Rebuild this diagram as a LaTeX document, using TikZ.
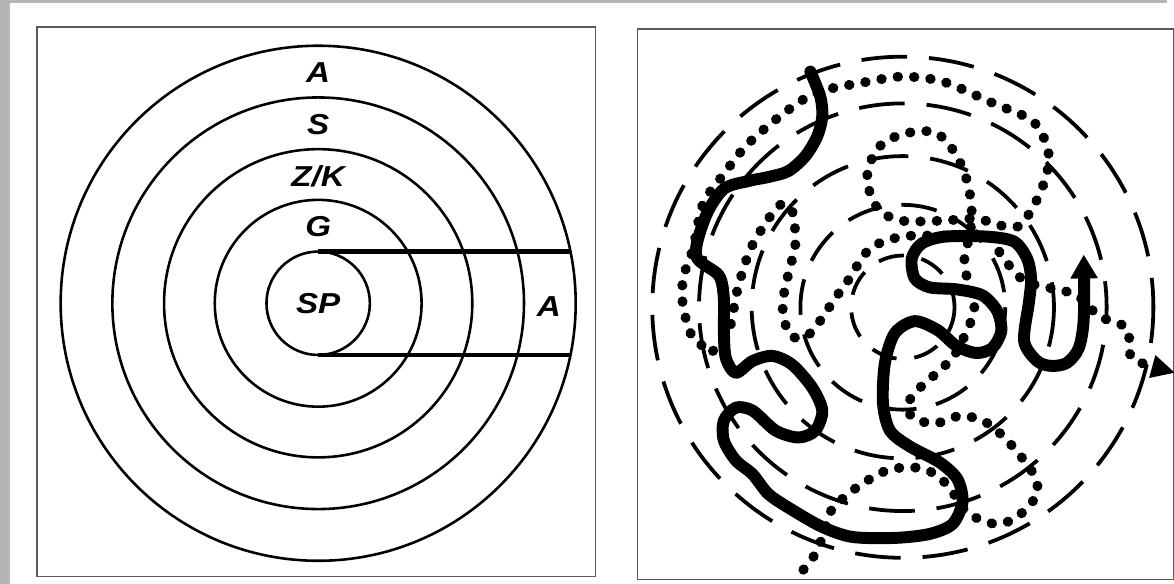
\documentclass[tikz,border=0pt]{standalone}
\usepackage{fontspec}
\newfontfamily\ringfont{Liberation Sans}[FakeStretch=1.15]
\usetikzlibrary{arrows.meta}

\begin{document}
\begin{tikzpicture}[x=1pt, y=-1pt,
    ring/.style={line width=2.6pt},
    band/.style={line width=4.4pt},
    zone/.style={font=\ringfont\bfseries\itshape\fontsize{29}{29}\selectfont, inner sep=0pt},
    track/.style={line width=3.8pt, dash pattern=on 46pt off 22pt},
    trail/.style={line width=10pt, line cap=round, dash pattern=on 0.5pt off 16pt},
    route/.style={line width=12pt, line cap=round, line join=round},
    frame/.style={draw=black!65, line width=1.5pt}]

    % fondo y marcos
    \fill[black!29] (0,0) rectangle (1174,587);
    \fill[white] (10,3) rectangle (1174,587);
    \draw[frame] (37,27) rectangle (599,580);
    \draw[frame] (641,29) rectangle (1180,583);
    \useasboundingbox (0,0) rectangle (1174,587);

    % izquierda: anillos concentricos
    \coordinate (L) at (320,305);
    \draw[ring] (L) circle (52);
    \draw[ring] (L) circle (104);
    \draw[ring] (L) circle (155);
    \draw[ring] (L) circle (207);
    \draw[ring] (L) circle (259);

    \coordinate (bandtopL) at (320,253);
    \coordinate (bandtopR) at (574,253);
    \coordinate (bandbotL) at (320,357);
    \coordinate (bandbotR) at (574,357);
    \draw[band] (bandtopL) -- (bandtopR);
    \draw[band] (bandbotL) -- (bandbotR);

    \node[zone] (ringA)  at (320,73)  {A};
    \node[zone] (ringS)  at (320,125) {S};
    \node[zone] (ringZK) at (320,177) {Z/K};
    \node[zone] (ringG)  at (320,228) {G};
    \node[zone] (core)   at (320,305) {SP};
    \node[zone] (bandA)  at (552,308) {A};

    % derecha: anillos discontinuos
    \coordinate (R) at (908,309);
    \draw[track, dash phase=10pt] (R) circle (252);
    \draw[track, dash phase=30pt] (R) circle (205);
    \draw[track, dash pattern=on 40pt off 22pt] (R) circle (152);
    \draw[track, dash pattern=on 36pt off 20pt, dash phase=20pt] (R) circle (103);
    \draw[track, dash pattern=on 26pt off 18pt] (R) circle (52);

    % recorrido punteado
    \draw[trail] plot[smooth, tension=0.5] coordinates {
        (808,573) (820,557) (828,538) (835,515) (847,502) (862,490) (878,480)
        (895,472) (917,470) (933,473) (947,482) (958,495) (972,515) (987,523)
        (1002,527) (1018,523) (1032,512) (1043,497) (1042,482) (1033,467)
        (1013,443) (992,425) (967,418) (940,426) (918,420) (913,407) (922,393)
        (948,370) (960,357) (970,338) (980,310) (972,277) (970,260) (976,232)
        (977,207) (972,180) (960,153) (940,133) (907,135) (882,150) (872,180)
        (883,210) (907,222) (947,222) (982,220) (1012,228) (1028,225)
        (1047,192) (1055,157) (1040,123) (997,103) (948,82) (907,77) (868,83)
        (832,90) (808,100) (778,122) (750,147) (728,175) (707,205) (697,250)
        (687,280) (687,308) (697,340) (717,353)};
    \draw[trail, -{Triangle[length=24pt, width=22pt]}] plot[smooth, tension=0.5] coordinates {
        (717,353) (733,333) (742,290) (755,250) (775,217) (787,205) (797,213)
        (800,245) (793,275) (787,307) (793,335) (805,340) (818,332) (840,300)
        (853,282) (875,250) (907,238) (947,237) (995,237) (1007,257)
        (1027,280) (1043,287) (1072,293) (1090,302) (1105,318) (1133,330)
        (1137,358) (1148,365) (1182,375)};

    % recorrido continuo con flecha
    \draw[route, -{Triangle[length=24pt, width=26pt]}] plot[smooth, tension=0.5] coordinates {
        (815,72) (825,97) (827,117) (822,137) (810,157) (793,172) (773,178)
        (753,182) (728,190) (710,217) (700,257) (723,277) (728,300) (728,333)
        (730,360) (740,375) (757,363) (777,358) (797,367) (817,390) (827,413)
        (820,433) (803,440) (780,433) (757,413) (740,410) (728,423) (728,443)
        (740,463) (757,477) (773,497) (797,513) (827,530) (857,540) (900,541)
        (935,537) (958,527) (968,505) (963,482) (945,465) (915,449) (895,433)
        (888,405) (890,365) (900,335) (920,323) (943,332) (962,348) (982,355)
        (998,350) (1007,333) (1003,313) (988,297) (962,291) (935,289)
        (920,280) (917,260) (927,245) (950,238) (993,238) (1020,243)
        (1033,260) (1037,280) (1035,303) (1030,343) (1043,363) (1057,368)
        (1073,365) (1085,350) (1090,320) (1090,256)};
\end{tikzpicture}
\end{document}
